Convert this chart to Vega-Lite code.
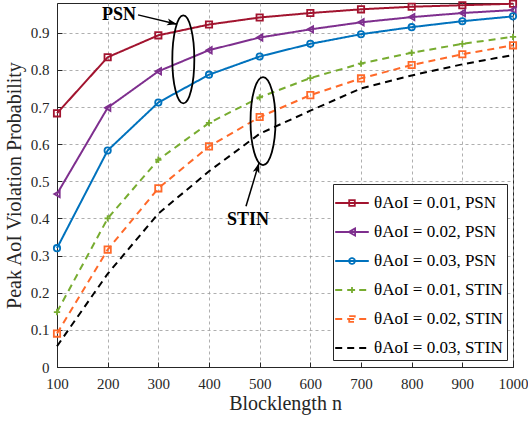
{
  "$schema": "https://vega.github.io/schema/vega-lite/v6.json",
  "width": 456,
  "height": 364,
  "autosize": {"type": "none"},
  "padding": {"left": 57, "top": 3, "right": 15, "bottom": 54},
  "background": "white",
  "config": {
    "font": "Liberation Serif",
    "view": {"stroke": "#262626", "strokeWidth": 1},
    "axis": {
      "labelFont": "Liberation Serif",
      "titleFont": "Liberation Serif",
      "labelFontSize": 15,
      "titleFontSize": 20,
      "titleFontWeight": "normal",
      "labelColor": "#262626",
      "titleColor": "#262626",
      "domainColor": "#262626",
      "tickColor": "#262626",
      "tickSize": -5,
      "labelFlush": false,
      "gridColor": "#9a9a9a",
      "gridDash": [3, 3],
      "gridWidth": 0.8
    }
  },
  "datasets": {
    "curves": [
      {"n": 100, "p": 0.683, "s": "p1"}, {"n": 200, "p": 0.834, "s": "p1"}, {"n": 300, "p": 0.893, "s": "p1"}, {"n": 400, "p": 0.922, "s": "p1"}, {"n": 500, "p": 0.941, "s": "p1"}, {"n": 600, "p": 0.953, "s": "p1"}, {"n": 700, "p": 0.963, "s": "p1"}, {"n": 800, "p": 0.970, "s": "p1"}, {"n": 900, "p": 0.974, "s": "p1"}, {"n": 1000, "p": 0.978, "s": "p1"},
      {"n": 100, "p": 0.466, "s": "p2"}, {"n": 200, "p": 0.698, "s": "p2"}, {"n": 300, "p": 0.796, "s": "p2"}, {"n": 400, "p": 0.853, "s": "p2"}, {"n": 500, "p": 0.887, "s": "p2"}, {"n": 600, "p": 0.909, "s": "p2"}, {"n": 700, "p": 0.928, "s": "p2"}, {"n": 800, "p": 0.942, "s": "p2"}, {"n": 900, "p": 0.953, "s": "p2"}, {"n": 1000, "p": 0.961, "s": "p2"},
      {"n": 100, "p": 0.320, "s": "p3"}, {"n": 200, "p": 0.583, "s": "p3"}, {"n": 300, "p": 0.712, "s": "p3"}, {"n": 400, "p": 0.787, "s": "p3"}, {"n": 500, "p": 0.836, "s": "p3"}, {"n": 600, "p": 0.870, "s": "p3"}, {"n": 700, "p": 0.896, "s": "p3"}, {"n": 800, "p": 0.915, "s": "p3"}, {"n": 900, "p": 0.931, "s": "p3"}, {"n": 1000, "p": 0.944, "s": "p3"},
      {"n": 100, "p": 0.148, "s": "s1"}, {"n": 200, "p": 0.400, "s": "s1"}, {"n": 300, "p": 0.558, "s": "s1"}, {"n": 400, "p": 0.657, "s": "s1"}, {"n": 500, "p": 0.726, "s": "s1"}, {"n": 600, "p": 0.778, "s": "s1"}, {"n": 700, "p": 0.817, "s": "s1"}, {"n": 800, "p": 0.846, "s": "s1"}, {"n": 900, "p": 0.870, "s": "s1"}, {"n": 1000, "p": 0.889, "s": "s1"},
      {"n": 100, "p": 0.090, "s": "s2"}, {"n": 200, "p": 0.316, "s": "s2"}, {"n": 300, "p": 0.481, "s": "s2"}, {"n": 400, "p": 0.594, "s": "s2"}, {"n": 500, "p": 0.673, "s": "s2"}, {"n": 600, "p": 0.732, "s": "s2"}, {"n": 700, "p": 0.777, "s": "s2"}, {"n": 800, "p": 0.813, "s": "s2"}, {"n": 900, "p": 0.842, "s": "s2"}, {"n": 1000, "p": 0.866, "s": "s2"},
      {"n": 100, "p": 0.056, "s": "s3"}, {"n": 200, "p": 0.251, "s": "s3"}, {"n": 300, "p": 0.413, "s": "s3"}, {"n": 400, "p": 0.527, "s": "s3"}, {"n": 500, "p": 0.628, "s": "s3"}, {"n": 600, "p": 0.690, "s": "s3"}, {"n": 700, "p": 0.750, "s": "s3"}, {"n": 800, "p": 0.785, "s": "s3"}, {"n": 900, "p": 0.815, "s": "s3"}, {"n": 1000, "p": 0.840, "s": "s3"}
    ]
  },
  "encoding": {
    "x": {
      "field": "n", "type": "quantitative",
      "scale": {"domain": [100, 1000], "nice": false, "zero": false},
      "axis": {"values": [100, 200, 300, 400, 500, 600, 700, 800, 900, 1000], "title": "Blocklength n", "labelPadding": 14, "titlePadding": 2, "format": "d"}
    },
    "y": {
      "field": "p", "type": "quantitative",
      "scale": {"domain": [0, 0.98], "nice": false},
      "axis": {"values": [0, 0.1, 0.2, 0.3, 0.4, 0.5, 0.6, 0.7, 0.8, 0.9], "format": ".1~f", "title": "Peak AoI Violation Probability", "labelPadding": 13, "titlePadding": 6}
    }
  },
  "layer": [
    {
      "data": {"name": "curves"},
      "mark": {"type": "line", "strokeWidth": 2},
      "encoding": {
        "color": {
          "field": "s", "type": "nominal",
          "scale": {"domain": ["p1", "p2", "p3", "s1", "s2", "s3"], "range": ["#A2142F", "#7E2F8E", "#0072BD", "#77AC30", "#FF6929", "#000000"]},
          "legend": {
            "title": null,
            "orient": "none",
            "legendX": 276,
            "legendY": 181,
            "padding": 4,
            "strokeColor": "#262626",
            "fillColor": "white",
            "cornerRadius": 0,
            "symbolSize": 784,
            "symbolStrokeWidth": 1.8,
            "rowPadding": 6,
            "labelOffset": 7,
            "labelFont": "Liberation Serif",
            "labelFontSize": 17,
            "labelColor": "#000000",
            "labelLimit": 300,
            "labelExpr": "['θAoI = 0.01, PSN', 'θAoI = 0.02, PSN', 'θAoI = 0.03, PSN', 'θAoI = 0.01, STIN', 'θAoI = 0.02, STIN', 'θAoI = 0.03, STIN'][indexof(['p1','p2','p3','s1','s2','s3'], datum.value)]",
            "encode": {
              "symbols": {
                "update": {
                  "shape": {"signal": "['M-1.2,0H1.2M-0.2,-0.2H0.2V0.2H-0.2Z', 'M-1.2,0H1.2M-0.24,0L0.22,-0.25V0.25Z', 'M-1.2,0H1.2M-0.21,0A0.21,0.21 0 1,0 0.21,0A0.21,0.21 0 1,0 -0.21,0', 'M-1.2,0H1.2M-0.22,0H0.22M0,-0.22V0.22', 'M-1.2,0H1.2M-0.2,-0.2H0.2V0.2H-0.2Z', 'M-1.2,0H1.2'][indexof(['p1','p2','p3','s1','s2','s3'], datum.value)]"},
                  "strokeDash": {"signal": "slice(datum.value, 0, 1) == 's' ? [7, 5] : [1, 0]"},
                  "fill": {"value": "transparent"},
                  "opacity": {"value": 1}
                }
              }
            }
          }
        },
        "strokeDash": {
          "field": "s", "type": "nominal",
          "scale": {"domain": ["p1", "p2", "p3", "s1", "s2", "s3"], "range": [[1, 0], [1, 0], [1, 0], [7, 5], [7, 5], [7, 5]]},
          "legend": null
        }
      }
    },
    {
      "data": {"name": "curves"},
      "transform": [{"filter": "datum.s != 's3'"}],
      "mark": {"type": "point", "filled": false, "strokeWidth": 1.8, "size": 40, "opacity": 1},
      "encoding": {
        "color": {"field": "s", "type": "nominal"},
        "shape": {
          "field": "s", "type": "nominal",
          "scale": {"domain": ["p1", "p2", "p3", "s1", "s2"], "range": ["square", "triangle-left", "circle", "M-1,0H1M0,-1V1", "square"]},
          "legend": null
        }
      }
    },
    {
      "data": {"values": [{"n": 188.8, "p": 0.948, "label": "PSN"}, {"n": 435.5, "p": 0.396, "label": "STIN"}]},
      "mark": {"type": "text", "align": "left", "baseline": "middle", "font": "Liberation Serif", "fontWeight": "bold", "fontSize": 18, "color": "#000000"},
      "encoding": {"text": {"field": "label"}}
    },
    {
      "data": {"values": [{"n": 259.9, "p": 0.948, "n2": 336.8, "p2": 0.923}, {"n": 473, "p": 0.433, "n2": 498.7, "p2": 0.549}]},
      "mark": {"type": "rule", "color": "#000000", "strokeWidth": 1.5},
      "encoding": {"x2": {"field": "n2"}, "y2": {"field": "p2"}}
    },
    {
      "data": {"values": [{"n": 336.8, "p": 0.923}]},
      "mark": {"type": "point", "shape": "M0,0L-2,-0.7L-1.5,0L-2,0.7Z", "size": 100, "filled": true, "color": "#000000", "opacity": 1, "angle": 13},
      "encoding": {}
    },
    {
      "data": {"values": [{"n": 498.7, "p": 0.549}]},
      "mark": {"type": "point", "shape": "M0,0L-2,-0.7L-1.5,0L-2,0.7Z", "size": 100, "filled": true, "color": "#000000", "opacity": 1, "angle": -73},
      "encoding": {}
    },
    {
      "data": {"values": [{"n": 349.3, "p": 0.828}]},
      "mark": {"type": "point", "shape": "M0,-1A0.25,1 0 1,1 0,1A0.25,1 0 1,1 0,-1Z", "size": 7744, "filled": false, "color": "#000000", "strokeWidth": 1.8, "opacity": 1},
      "encoding": {}
    },
    {
      "data": {"values": [{"n": 506.6, "p": 0.662}]},
      "mark": {"type": "point", "shape": "M0,-1A0.284,1 0 1,1 0,1A0.284,1 0 1,1 0,-1Z", "size": 7744, "filled": false, "color": "#000000", "strokeWidth": 1.8, "opacity": 1},
      "encoding": {}
    }
  ]
}
